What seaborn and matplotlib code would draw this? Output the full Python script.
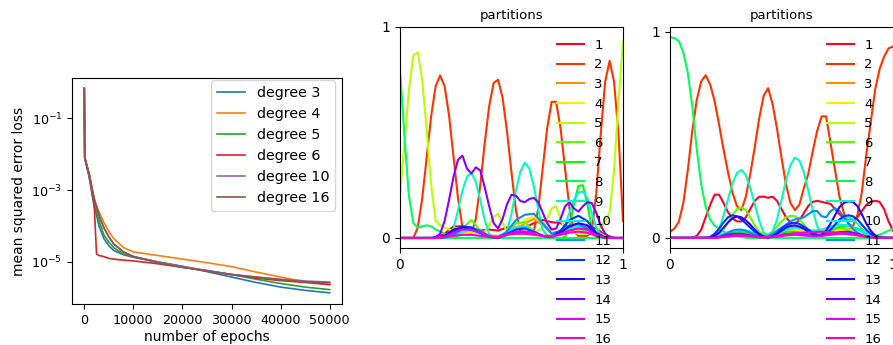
import numpy as np
import pandas as pd
import matplotlib
matplotlib.use("Agg")
import matplotlib.pyplot as plt
import seaborn as sns

# ---------------- data: loss curves (log10 of loss) ----------------
EPOCHS = [0, 100, 1000, 2000, 2500, 3000, 4000, 5000, 6000, 8000, 10000,
          15000, 20000, 25000, 30000, 35000, 40000, 45000, 50000]
DEGREE_LABELS = ["degree 3", "degree 4", "degree 5", "degree 6", "degree 10", "degree 16"]
LOG_LOSS_DEG3 = [-0.17, -2.10, -2.65, -3.45, -3.70, -4.00, -4.35, -4.55, -4.68, -4.80, -4.87,
                 -5.00, -5.13, -5.27, -5.42, -5.57, -5.70, -5.79, -5.86]
LOG_LOSS_DEG4 = [-0.17, -2.10, -2.55, -3.20, -3.45, -3.60, -3.90, -4.15, -4.35, -4.60, -4.72,
                 -4.82, -4.92, -5.02, -5.13, -5.28, -5.42, -5.55, -5.63]
LOG_LOSS_DEG5 = [-0.17, -2.10, -2.60, -3.35, -3.60, -3.85, -4.25, -4.45, -4.60, -4.78, -4.85,
                 -5.00, -5.12, -5.25, -5.35, -5.48, -5.60, -5.70, -5.77]
LOG_LOSS_DEG6 = [-0.17, -2.10, -2.60, -3.35, -4.78, -4.82, -4.85, -4.90, -4.92, -4.95, -4.97,
                 -5.05, -5.15, -5.24, -5.35, -5.45, -5.52, -5.57, -5.63]
LOG_LOSS_DEG10 = [-0.17, -2.10, -2.55, -3.25, -3.45, -3.70, -4.05, -4.30, -4.50, -4.72, -4.85,
                  -5.00, -5.13, -5.24, -5.35, -5.42, -5.48, -5.53, -5.56]
LOG_LOSS_DEG16 = [-0.17, -2.10, -2.55, -3.25, -3.45, -3.70, -4.05, -4.30, -4.50, -4.72, -4.85,
                  -5.02, -5.15, -5.25, -5.35, -5.42, -5.50, -5.55, -5.58]
LOSS_COLORS = ["#1f77b4", "#ff7f0e", "#2ca02c", "#d62728", "#9467bd", "#8c564b"]

# ---------------- data: partitions ----------------
PART_LABELS = [str(i) for i in range(1, 17)]
X_FINE = [0.00, 0.02, 0.04, 0.06, 0.08, 0.10, 0.12, 0.14, 0.16, 0.18,
          0.20, 0.22, 0.24, 0.26, 0.28, 0.30, 0.32, 0.34, 0.36, 0.38,
          0.40, 0.42, 0.44, 0.46, 0.48, 0.50, 0.52, 0.54, 0.56, 0.58,
          0.60, 0.62, 0.64, 0.66, 0.68, 0.70, 0.72, 0.74, 0.76, 0.78,
          0.80, 0.82, 0.84, 0.86, 0.88, 0.90, 0.92, 0.94, 0.96, 0.98, 1.00]
X_COARSE = [0.00, 0.04, 0.08, 0.12, 0.16, 0.20, 0.24, 0.28, 0.32, 0.36, 0.40, 0.44, 0.48,
            0.52, 0.56, 0.60, 0.64, 0.68, 0.72, 0.76, 0.80, 0.84, 0.88, 0.92, 0.96, 1.00]

# middle panel
MID_P1 = [0, 0, 0, 0, 0, 0.02, 0.055, 0.055, 0.035, 0.035, 0.04, 0.035, 0.05,
          0.05, 0.05, 0.07, 0.085, 0.075, 0.07, 0.05, 0.045, 0.055, 0.045, 0.015, 0, 0]
MID_P2 = [0, 0, 0, 0, 0.05, 0.19, 0.385, 0.58, 0.72, 0.77,
          0.72, 0.58, 0.385, 0.19, 0.05, 0.015, 0.02, 0.09, 0.25, 0.45,
          0.625, 0.735, 0.75, 0.665, 0.505, 0.31, 0.13, 0.03, 0.02, 0.02,
          0.03, 0.14, 0.33, 0.52, 0.645, 0.645, 0.52, 0.33, 0.14, 0.03,
          0.01, 0.01, 0.01, 0.03, 0.21, 0.49, 0.74, 0.84, 0.74, 0.49, 0.08]
MID_P3 = [0, 0, 0, 0, 0, 0, 0.01, 0.025, 0.03, 0.02, 0.01, 0.01, 0.015,
          0.04, 0.07, 0.09, 0.06, 0.025, 0.02, 0.035, 0.05, 0.05, 0.03, 0.01, 0, 0]
MID_P4 = [0, 0, 0, 0, 0, 0, 0.01, 0.02, 0.025, 0.015, 0.01, 0.01, 0.02,
          0.05, 0.085, 0.10, 0.07, 0.03, 0.02, 0.03, 0.04, 0.04, 0.025, 0.01, 0, 0]
MID_P5 = [0.20, 0.45, 0.70, 0.865, 0.88, 0.745, 0.51, 0.25, 0.08, 0.06,
          0.05, 0.04, 0.035, 0.03, 0.03, 0.03, 0.03, 0.025, 0.025, 0.03,
          0.06, 0.10, 0.115, 0.07, 0.03, 0.02, 0.02, 0.02, 0.025, 0.03,
          0.03, 0.035, 0.05, 0.09, 0.14, 0.15, 0.09, 0.04, 0.03, 0.025,
          0.02, 0.02, 0.02, 0.025, 0.035, 0.05, 0.08, 0.12, 0.32, 0.65, 0.93]
MID_P6 = [0, 0, 0, 0, 0, 0, 0, 0.045, 0.085, 0.035, 0.005, 0.005, 0.025,
          0.07, 0.075, 0.03, 0.01, 0.01, 0.025, 0.04, 0.045, 0.03, 0.01, 0, 0, 0]
MID_P7 = [0, 0, 0, 0, 0, 0, 0, 0, 0, 0,
          0, 0, 0, 0, 0, 0, 0, 0, 0, 0,
          0, 0, 0, 0, 0, 0, 0, 0, 0, 0,
          0, 0, 0, 0, 0, 0, 0, 0.005, 0.05, 0.16,
          0.247, 0.25, 0.16, 0.05, 0.005, 0, 0, 0, 0, 0, 0]
MID_P8 = [0.80, 0.48, 0.20, 0.07, 0.05, 0.055, 0.06, 0.055, 0.04, 0.03,
          0.02, 0.01, 0.005, 0.003, 0, 0, 0, 0, 0, 0,
          0, 0, 0, 0, 0, 0, 0, 0, 0, 0,
          0, 0, 0, 0, 0, 0, 0, 0, 0, 0,
          0, 0, 0, 0, 0, 0, 0, 0, 0, 0, 0]
MID_P9 = [0, 0, 0, 0, 0, 0, 0, 0, 0, 0,
          0, 0.002, 0.045, 0.13, 0.225, 0.29, 0.31, 0.265, 0.18, 0.085,
          0.017, 0.005, 0.005, 0.005, 0.03, 0.115, 0.225, 0.315, 0.357, 0.33,
          0.245, 0.135, 0.04, 0.01, 0.005, 0.01, 0.02, 0.03, 0.04, 0.05,
          0.055, 0.05, 0.04, 0.025, 0.01, 0, 0, 0, 0, 0, 0]
MID_P10 = [0, 0, 0, 0, 0, 0, 0, 0, 0, 0,
           0, 0, 0.01, 0.02, 0.03, 0.035, 0.035, 0.03, 0.02, 0.01,
           0.005, 0.005, 0.005, 0.01, 0.02, 0.035, 0.05, 0.055, 0.055, 0.045,
           0.03, 0.02, 0.01, 0.01, 0.01, 0.015, 0.03, 0.06, 0.12, 0.18,
           0.215, 0.22, 0.19, 0.12, 0.05, 0.015, 0.005, 0, 0, 0, 0]
MID_P11 = [0, 0, 0, 0, 0, 0, 0.015, 0.045, 0.05, 0.035, 0.01, 0.005, 0.03,
           0.085, 0.11, 0.115, 0.07, 0.02, 0.035, 0.06, 0.065, 0.045, 0.015, 0, 0, 0]
MID_P12 = [0, 0, 0, 0, 0, 0.005, 0.03, 0.055, 0.05, 0.025, 0.005, 0.002, 0.02,
           0.04, 0.045, 0.03, 0.01, 0.005, 0.035, 0.085, 0.105, 0.08, 0.025, 0.003, 0, 0]
MID_P13 = [0, 0, 0, 0, 0, 0.01, 0.04, 0.05, 0.04, 0.025, 0.005, 0, 0.015,
           0.03, 0.03, 0.02, 0.01, 0.005, 0.025, 0.055, 0.07, 0.06, 0.02, 0, 0, 0]
MID_P14 = [0, 0, 0, 0, 0, 0, 0, 0, 0.005, 0.02,
           0.08, 0.18, 0.29, 0.37, 0.39, 0.33, 0.305, 0.335, 0.32, 0.24,
           0.15, 0.07, 0.045, 0.09, 0.16, 0.205, 0.20, 0.175, 0.17, 0.185,
           0.19, 0.17, 0.12, 0.07, 0.04, 0.045, 0.09, 0.15, 0.17, 0.14,
           0.125, 0.15, 0.17, 0.165, 0.12, 0.06, 0.02, 0.005, 0, 0, 0]
MID_P15 = [0, 0, 0, 0, 0, 0.005, 0.025, 0.04, 0.04, 0.025, 0.01, 0, 0.015,
           0.03, 0.03, 0.025, 0.01, 0.005, 0.02, 0.035, 0.045, 0.04, 0.015, 0, 0, 0]
MID_P16 = [0, 0, 0, 0, 0, 0.005, 0.01, 0.015, 0.015, 0.01, 0.005, 0.005, 0.015,
           0.02, 0.02, 0.015, 0.01, 0.01, 0.015, 0.025, 0.03, 0.025, 0.01, 0, 0, 0]

# right panel
RIGHT_P1 = [0, 0, 0, 0, 0, 0, 0.01, 0.04, 0.10, 0.16,
            0.21, 0.21, 0.17, 0.125, 0.095, 0.08, 0.08, 0.10, 0.14, 0.18,
            0.20, 0.20, 0.195, 0.20, 0.18, 0.14, 0.10, 0.075, 0.07, 0.085,
            0.12, 0.155, 0.175, 0.18, 0.175, 0.17, 0.165, 0.14, 0.115, 0.095,
            0.085, 0.085, 0.10, 0.13, 0.16, 0.175, 0.18, 0.175, 0.14, 0.08, 0.035]
RIGHT_P2 = [0.03, 0.045, 0.08, 0.17, 0.33, 0.52, 0.67, 0.76, 0.79, 0.745,
            0.665, 0.55, 0.43, 0.32, 0.22, 0.155, 0.135, 0.20, 0.31, 0.44,
            0.58, 0.69, 0.727, 0.65, 0.53, 0.39, 0.26, 0.17, 0.135, 0.16,
            0.24, 0.31, 0.42, 0.52, 0.59, 0.59, 0.46, 0.33, 0.20, 0.12,
            0.07, 0.055, 0.11, 0.22, 0.40, 0.56, 0.72, 0.82, 0.88, 0.92, 0.93]
RIGHT_P3 = [0, 0, 0, 0, 0, 0, 0.005, 0.01, 0.012, 0.008, 0.003, 0.002, 0.01,
            0.025, 0.03, 0.025, 0.015, 0.02, 0.03, 0.04, 0.045, 0.045, 0.03, 0.01, 0.002, 0]
RIGHT_P4 = [0, 0, 0, 0, 0, 0, 0.01, 0.02, 0.022, 0.015, 0.005, 0.003, 0.015,
            0.035, 0.04, 0.035, 0.025, 0.03, 0.035, 0.04, 0.035, 0.025, 0.012, 0.004, 0, 0]
RIGHT_P5 = [0, 0, 0, 0, 0, 0, 0.015, 0.035, 0.04, 0.03, 0.01, 0.005, 0.02,
            0.045, 0.05, 0.04, 0.025, 0.03, 0.045, 0.05, 0.04, 0.025, 0.01, 0.003, 0, 0]
RIGHT_P6 = [0, 0, 0, 0, 0, 0, 0, 0, 0, 0,
            0.005, 0.015, 0.04, 0.075, 0.11, 0.14, 0.148, 0.135, 0.10, 0.06,
            0.03, 0.015, 0.015, 0.03, 0.055, 0.08, 0.10, 0.107, 0.105, 0.09,
            0.065, 0.04, 0.025, 0.02, 0.025, 0.035, 0.045, 0.05, 0.05, 0.045,
            0.035, 0.025, 0.015, 0.01, 0.005, 0, 0, 0, 0, 0, 0]
RIGHT_P7 = [0, 0, 0, 0, 0, 0, 0.01, 0.025, 0.03, 0.02, 0.008, 0.003, 0.015,
            0.03, 0.03, 0.02, 0.01, 0.015, 0.035, 0.055, 0.06, 0.045, 0.02, 0.008, 0.003, 0]
RIGHT_P8 = [0.975, 0.97, 0.955, 0.90, 0.80, 0.64, 0.43, 0.26, 0.15, 0.09,
            0.06, 0.045, 0.03, 0.022, 0.015, 0.01, 0.005, 0, 0, 0,
            0, 0, 0, 0, 0, 0, 0, 0, 0, 0,
            0, 0, 0, 0, 0, 0, 0, 0, 0, 0,
            0, 0, 0, 0, 0, 0.005, 0.01, 0.015, 0.025, 0.035, 0.045]
RIGHT_P9 = [0, 0, 0, 0, 0, 0, 0, 0, 0, 0,
            0.003, 0.04, 0.107, 0.188, 0.264, 0.315, 0.33, 0.304, 0.243, 0.163,
            0.084, 0.025, 0.015, 0.03, 0.09, 0.183, 0.278, 0.353, 0.39, 0.376,
            0.32, 0.23, 0.135, 0.055, 0.025, 0.025, 0.04, 0.06, 0.08, 0.095,
            0.10, 0.09, 0.07, 0.045, 0.025, 0.01, 0.003, 0, 0, 0, 0]
RIGHT_P10 = [0, 0, 0, 0, 0, 0.005, 0.02, 0.035, 0.04, 0.03, 0.012, 0.005, 0.02,
             0.04, 0.05, 0.045, 0.035, 0.04, 0.055, 0.065, 0.06, 0.04, 0.02, 0.005, 0, 0]
RIGHT_P11 = [0, 0, 0, 0, 0, 0, 0, 0, 0, 0,
             0, 0.005, 0.015, 0.025, 0.035, 0.04, 0.04, 0.035, 0.025, 0.015,
             0.008, 0.005, 0.008, 0.02, 0.035, 0.05, 0.065, 0.08, 0.09, 0.095,
             0.10, 0.115, 0.13, 0.13, 0.105, 0.10, 0.13, 0.144, 0.13, 0.10,
             0.07, 0.045, 0.025, 0.012, 0.005, 0, 0, 0, 0, 0, 0]
RIGHT_P12 = [0, 0, 0, 0, 0, 0, 0, 0, 0, 0.005,
             0.02, 0.045, 0.075, 0.10, 0.11, 0.105, 0.09, 0.07, 0.05, 0.03,
             0.015, 0.005, 0.002, 0.01, 0.025, 0.045, 0.06, 0.07, 0.072, 0.068,
             0.055, 0.04, 0.025, 0.015, 0.01, 0.02, 0.04, 0.065, 0.09, 0.105,
             0.11, 0.105, 0.09, 0.065, 0.04, 0.02, 0.008, 0.002, 0, 0, 0]
RIGHT_P13 = [0, 0, 0, 0, 0, 0, 0, 0, 0, 0,
             0.01, 0.025, 0.05, 0.075, 0.095, 0.105, 0.10, 0.085, 0.065, 0.04,
             0.02, 0.007, 0.002, 0.008, 0.02, 0.035, 0.05, 0.058, 0.06, 0.055,
             0.045, 0.03, 0.018, 0.01, 0.015, 0.035, 0.07, 0.11, 0.15, 0.17,
             0.177, 0.175, 0.155, 0.115, 0.07, 0.035, 0.012, 0.003, 0, 0, 0]
RIGHT_P14 = [0, 0, 0, 0, 0, 0, 0.01, 0.02, 0.02, 0.012, 0.004, 0.002, 0.008,
             0.018, 0.02, 0.015, 0.01, 0.012, 0.02, 0.028, 0.03, 0.02, 0.008, 0.002, 0, 0]
RIGHT_P15 = [0, 0, 0, 0, 0, 0, 0.005, 0.01, 0.012, 0.008, 0.003, 0.002, 0.006,
             0.012, 0.015, 0.012, 0.008, 0.01, 0.015, 0.02, 0.02, 0.015, 0.006, 0.002, 0, 0]
RIGHT_P16 = [0, 0, 0, 0, 0, 0, 0.005, 0.008, 0.01, 0.008, 0.004, 0.004, 0.01,
             0.018, 0.022, 0.026, 0.028, 0.03, 0.028, 0.024, 0.018, 0.012, 0.006, 0.002, 0, 0]

MID_CURVES = [MID_P1, MID_P2, MID_P3, MID_P4, MID_P5, MID_P6, MID_P7, MID_P8,
              MID_P9, MID_P10, MID_P11, MID_P12, MID_P13, MID_P14, MID_P15, MID_P16]
RIGHT_CURVES = [RIGHT_P1, RIGHT_P2, RIGHT_P3, RIGHT_P4, RIGHT_P5, RIGHT_P6, RIGHT_P7, RIGHT_P8,
                RIGHT_P9, RIGHT_P10, RIGHT_P11, RIGHT_P12, RIGHT_P13, RIGHT_P14, RIGHT_P15, RIGHT_P16]

# ---------------- build tables ----------------
loss_rows = []
for lab, vals in zip(DEGREE_LABELS, [LOG_LOSS_DEG3, LOG_LOSS_DEG4, LOG_LOSS_DEG5,
                                      LOG_LOSS_DEG6, LOG_LOSS_DEG10, LOG_LOSS_DEG16]):
    for e, lv in zip(EPOCHS, vals):
        loss_rows.append({"epoch": e, "loss": 10.0 ** lv, "degree": lab})
loss_df = pd.DataFrame(loss_rows)


def part_table(curves):
    rows = []
    for lab, vals in zip(PART_LABELS, curves):
        xs = X_FINE if len(vals) == len(X_FINE) else X_COARSE
        for xv, v in zip(xs, vals):
            rows.append({"x": xv, "v": v, "partition": lab})
    return pd.DataFrame(rows)


mid_df = part_table(MID_CURVES)
right_df = part_table(RIGHT_CURVES)
part_colors = [tuple(c) for c in plt.cm.gist_rainbow(np.linspace(0, 1, 16))]

# ---------------- figure ----------------
W, H = 893, 345
fig = plt.figure(figsize=(W / 100, H / 100), dpi=100)


def axes_px(x0, y0, x1, y1):
    return fig.add_axes([x0 / W, 1 - y1 / H, (x1 - x0) / W, (y1 - y0) / H])


ax0 = axes_px(72, 78, 342, 304)
ax0.set_yscale("log")
sns.lineplot(data=loss_df, x="epoch", y="loss", hue="degree", hue_order=DEGREE_LABELS,
             palette=LOSS_COLORS, estimator=None, linewidth=1.2, ax=ax0)
ax0.set_xlabel("number of epochs", fontsize=10, labelpad=2)
ax0.set_ylabel("mean squared error loss", fontsize=10)
ax0.set_yticks([1e-5, 1e-3, 1e-1])
ax0.yaxis.set_minor_locator(matplotlib.ticker.NullLocator())
ax0.set_xticks([0, 10000, 20000, 30000, 40000, 50000])
ax0.tick_params(labelsize=9.2)
ax0.set_xlim(-2500, 52500)
ax0.set_ylim(10 ** -6.17, 10 ** 0.12)
h, l = ax0.get_legend_handles_labels()
ax0.legend(h, l, loc="upper right", fontsize=10.3, labelspacing=0.5,
           bbox_to_anchor=(335 / W, 1 - 80 / H), bbox_transform=fig.transFigure,
           borderaxespad=0.0)

for ax_pos, df, ylim in [((400, 27, 623, 248), mid_df, (-0.0475, 1.0)),
                          ((670, 27, 893, 248), right_df, (-0.049, 1.024))]:
    ax = axes_px(*ax_pos)
    sns.lineplot(data=df, x="x", y="v", hue="partition", hue_order=PART_LABELS,
                 palette=part_colors, estimator=None, linewidth=1.5, ax=ax)
    ax.set_xlim(0, 1)
    ax.set_ylim(*ylim)
    ax.set_xticks([0, 1])
    ax.set_yticks([0, 1])
    ax.set_xlabel("")
    ax.set_ylabel("")
    ax.tick_params(labelsize=10)
    ax.set_title("partitions", fontsize=9.5)
    h, l = ax.get_legend_handles_labels()
    ax.legend(h, l, loc="upper right", frameon=False, fontsize=9.5, labelspacing=0.5)

fig.savefig("out.png", dpi=100)
